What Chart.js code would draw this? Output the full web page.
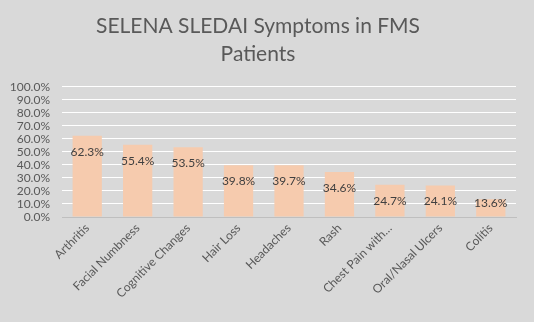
<!DOCTYPE html>
<html>
<head>
<meta charset="utf-8">
<script src="https://cdn.jsdelivr.net/npm/chart.js@4.4.1/dist/chart.umd.min.js"></script>
<style>
  html, body { margin: 0; padding: 0; background: #ffffff; }
  #wrap { width: 534px; height: 322px; background: #d9d9d9; position: relative; }
</style>
</head>
<body>
<div id="wrap"><canvas id="symptomChart" width="534" height="322"></canvas></div>
<script>
const symptoms = ['Arthritis', 'Facial Numbness', 'Cognitive Changes', 'Hair Loss', 'Headaches',
  'Rash', 'Chest Pain with…', 'Oral/Nasal Ulcers', 'Colitis'];
const percentages = [62.3, 55.4, 53.5, 39.8, 39.7, 34.6, 24.7, 24.1, 13.6];
const titleLines = ['SELENA SLEDAI Symptoms in FMS', 'Patients'];

const FONT = 'Lato, "Open Sans", sans-serif';

// value labels just inside the top of each bar (Excel "inside end")
const barLabels = {
  id: 'barLabels',
  afterDatasetsDraw(chart) {
    const ctx = chart.ctx;
    const meta = chart.getDatasetMeta(0);
    ctx.save();
    ctx.font = '12px ' + FONT;
    ctx.fillStyle = '#404040';
    ctx.textAlign = 'center';
    ctx.textBaseline = 'middle';
    meta.data.forEach((bar, i) => {
      const y = Math.min(bar.y + 16, bar.base - 13.5);
      ctx.fillText(percentages[i].toFixed(1) + '%', bar.x, y);
    });
    ctx.restore();
  }
};

const ctx = document.getElementById('symptomChart').getContext('2d');
const chart = new Chart(ctx, {
  type: 'bar',
  data: {
    labels: symptoms,
    datasets: [{
      data: percentages,
      backgroundColor: '#f6cbae',
      borderWidth: 0,
      barPercentage: 0.58,
      categoryPercentage: 1
    }]
  },
  options: {
    responsive: false,
    animation: false,
    layout: { padding: { left: 0, right: 18, top: 0, bottom: 0 } },
    plugins: {
      legend: { display: false },
      tooltip: { enabled: false },
      title: {
        display: true,
        text: titleLines,
        color: '#595959',
        font: { family: FONT, size: 21, weight: 'normal', lineHeight: 1.35 },
        padding: { top: 12, bottom: 18 }
      }
    },
    scales: {
      x: {
        grid: { display: false, drawTicks: false },
        border: { color: '#bfbfbf', width: 1 },
        ticks: {
          color: '#595959',
          font: { family: FONT, size: 12 },
          minRotation: 45,
          maxRotation: 45,
          autoSkip: false,
          padding: 4
        },
        afterFit(scale) { scale.height = 105; }
      },
      y: {
        min: 0,
        max: 100,
        grid: { color: '#ffffff', lineWidth: 1, drawTicks: false },
        border: { display: false },
        ticks: {
          stepSize: 10,
          autoSkip: false,
          color: '#595959',
          font: { family: FONT, size: 12 },
          padding: 12,
          callback: v => v.toFixed(1) + '%'
        },
        afterFit(scale) { scale.width = 62; }
      }
    }
  },
  plugins: [barLabels]
});
</script>
</body>
</html>
